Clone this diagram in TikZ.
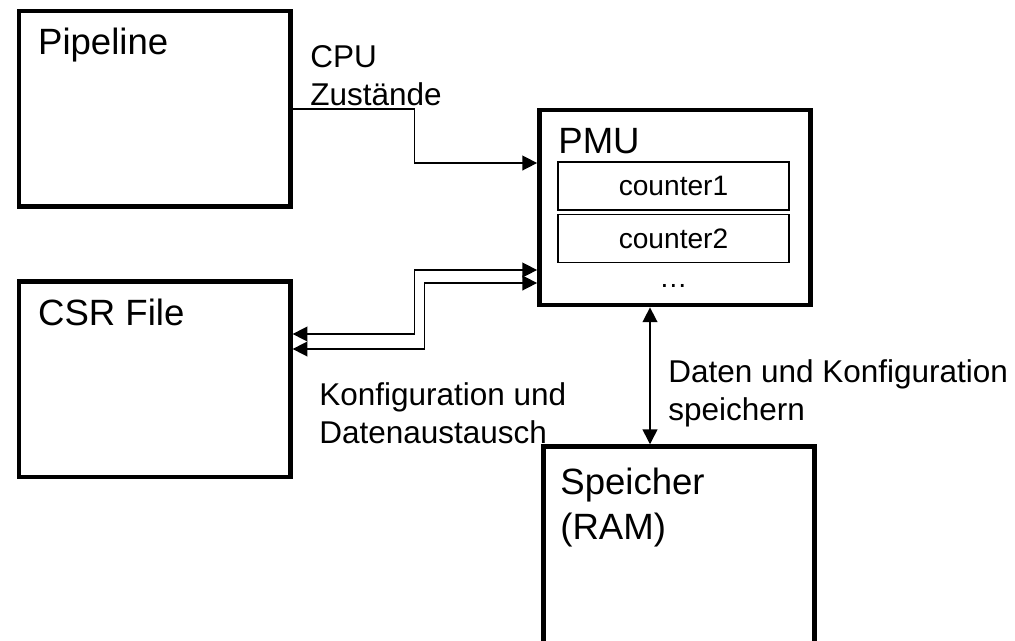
\documentclass[tikz,border=0pt]{standalone}
\usepackage{fontspec}
\setmainfont{Liberation Sans}
\usepackage{tikz}
\usetikzlibrary{arrows.meta,positioning,calc}
\tikzset{
  unit/.style={
    draw,line width=3.2pt,minimum width=6.78cm,minimum height=4.88cm,
    inner sep=0pt
  },
  title/.style={
    anchor=base west,inner sep=0pt,align=left,
    font=\fontsize{26pt}{32pt}\selectfont
  },
  note/.style={
    anchor=base west,inner sep=0pt,align=left,
    font=\fontsize{22.4pt}{27pt}\selectfont
  },
  counterbox/.style={
    draw,line width=0.85pt,minimum width=5.775cm,minimum height=1.2cm,
    inner sep=0pt,font=\fontsize{20pt}{24pt}\selectfont
  },
  link/.style={{Triangle[length=10.5pt,width=10.5pt]}-{Triangle[length=10.5pt,width=10.5pt]},line width=1.1pt}
}

\begin{document}
\begin{tikzpicture}[x=0.025cm,y=-0.025cm]
  \useasboundingbox (0,0) rectangle (1015,640);
  \clip (0,0) rectangle (1015,640);
  % blocks
  \node[unit] (pipe) at (154.75,108.75) {};
  \node[unit] (csr) at (154.75,379.25) {};
  \node[unit] (pmu) at (675,207.5) {};
  \node[unit,minimum height=5.6cm,anchor=north] (mem) at (679,444.25) {};
  \node[title] (pipetitle) at ([shift={(21,46)}]pipe.north west) {Pipeline};
  \node[title] (csrtitle) at ([shift={(21,46)}]csr.north west) {CSR File};
  \node[title] (pmutitle) at ([shift={(21,46)}]pmu.north west) {PMU};
  \node[title] (memtitle) at ([shift={(19,95)}]mem.north west) {Speicher\\(RAM)};
  % counters inside the PMU
  \node[counterbox] (cnt1) at (673.5,186) {counter1};
  \node[counterbox,below=0.08cm of cnt1] (cnt2) {counter2};
  \node[font=\fontsize{20pt}{24pt}\selectfont] (dots) at (673.5,286) {\dots};
  % connections
  \draw[link,{}-{Triangle[length=10.5pt,width=10.5pt]}] (pipe.east) -- ++(122,0)
    |- ($(pmu.west)+(0,-44.5)$);
  \draw[link] ($(csr.east)+(0,-45.25)$) -- ++(122,0)
    |- ($(pmu.west)+(0,62.5)$);
  \draw[link] ($(csr.east)+(0,-30.25)$) -- ++(132,0)
    |- ($(pmu.west)+(0,75.5)$);
  \draw[link] ($(pmu.south)+(-25,0)$) -- ($(mem.north)+(-29,0)$);
  % labels (base = last line)
  \node[note] (cpulabel) at (310,105) {CPU\\Zustände};
  \node[note] (csrlabel) at (319,443) {Konfiguration und\\Datenaustausch};
  \node[note] (memlabel) at (668,420) {Daten und Konfiguration\\speichern};
\end{tikzpicture}
\end{document}
